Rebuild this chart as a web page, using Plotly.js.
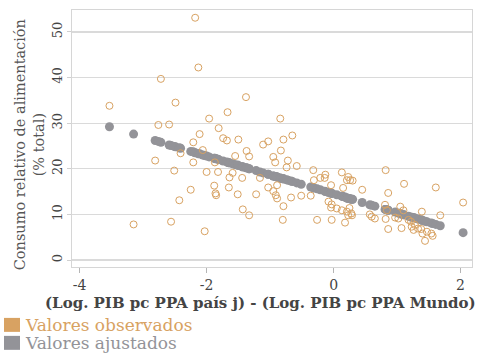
<!DOCTYPE html>
<html>
<head>
<meta charset="utf-8">
<script src="https://cdn.plot.ly/plotly-3.0.1.min.js"></script>
<style>
html,body{margin:0;padding:0;background:#fff;}
#chart{width:481px;height:354px;}
</style>
</head>
<body>
<div id="chart"></div>
<script>
// Observed values: x = log GDP pc gap, y = food consumption share (% total)
const obsX = [-3.53,-3.15,-2.81,-2.76,-2.59,-2.72,-2.49,-2.51,-2.56,-2.43,
  -2.41,-2.25,-2.21,-2.21,-2.18,-2.13,-2.11,-2.06,-2.03,-2.00,
  -1.96,-1.88,-1.87,-1.86,-1.85,-1.82,-1.81,-1.74,-1.68,-1.67,
  -1.65,-1.64,-1.59,-1.55,-1.51,-1.50,-1.44,-1.43,-1.38,-1.37,
  -1.33,-1.33,-1.22,-1.16,-1.11,-1.03,-1.03,-0.95,-0.95,-0.92,
  -0.91,-0.89,-0.89,-0.84,-0.83,-0.80,-0.79,-0.79,-0.72,-0.74,
  -0.67,-0.65,-0.58,-0.51,-0.36,-0.32,-0.31,-0.26,-0.21,-0.14,
  -0.13,-0.08,-0.04,-0.03,-0.04,-0.03,0.05,0.13,0.13,0.15,
  0.18,0.21,0.21,0.23,0.26,0.30,0.25,0.28,0.23,0.29,
  0.45,0.57,0.60,0.65,0.82,0.86,0.81,0.84,0.82,0.86,
  0.97,1.02,1.05,1.10,1.11,1.07,1.18,1.22,1.23,1.26,
  1.28,1.33,1.38,1.39,1.40,1.47,1.44,1.54,1.56,1.61,
  1.68,2.04];
const obsY = [33.8,7.8,21.8,29.6,29.7,39.7,34.5,19.6,8.4,13.1,
  23.4,15.4,25.8,21.4,53.1,42.2,27.6,24.1,6.3,19.3,
  31.0,16.3,21.4,14.6,14.2,19.3,28.9,26.7,26.2,32.4,
  15.9,18.1,19.1,22.8,14.4,26.4,18.0,11.1,35.7,23.9,
  22.7,9.8,14.4,18.0,25.3,26.0,15.9,22.6,15.1,21.4,
  14.2,13.5,16.4,31.0,24.0,8.8,26.4,11.8,21.8,20.3,
  13.7,27.3,20.6,14.1,14.1,19.7,17.5,8.8,18.0,18.0,
  18.7,12.8,16.4,12.2,11.5,8.8,11.3,19.2,10.9,15.8,
  8.2,17.5,10.6,18.2,17.5,17.4,11.4,10.2,9.8,9.8,
  15.4,10.0,9.5,9.1,19.7,14.7,12.1,10.9,9.0,6.8,
  9.3,9.1,11.7,10.9,16.7,7.0,8.8,8.4,7.3,6.6,
  7.7,6.9,6.8,10.6,5.8,6.2,4.2,5.8,5.3,15.9,
  9.8,12.6];
// Fitted values at each observation
const fitY = [29.2,27.6,26.2,26.0,25.2,25.8,24.8,24.9,25.1,24.6,
  24.5,23.8,23.7,23.7,23.5,23.3,23.3,23.0,22.9,22.8,
  22.6,22.3,22.3,22.2,22.2,22.1,22.0,21.7,21.5,21.4,
  21.3,21.3,21.1,20.9,20.8,20.7,20.5,20.4,20.2,20.2,
  20.0,20.0,19.6,19.3,19.1,18.8,18.8,18.4,18.4,18.3,
  18.3,18.2,18.2,18.0,17.9,17.8,17.8,17.8,17.5,17.6,
  17.3,17.2,16.9,16.6,16.0,15.8,15.8,15.6,15.4,15.1,
  15.0,14.8,14.7,14.6,14.7,14.6,14.3,14.0,14.0,13.9,
  13.8,13.6,13.6,13.5,13.4,13.3,13.5,13.3,13.5,13.3,
  12.6,12.1,12.0,11.8,11.1,10.9,11.1,11.0,11.1,10.9,
  10.5,10.3,10.1,9.9,9.9,10.1,9.6,9.4,9.4,9.3,
  9.2,9.0,8.8,8.7,8.7,8.4,8.5,8.1,8.0,7.8,
  7.5,6.0];
const xTicks = [-4,-2,0,2];
const yTicks = [0,10,20,30,40,50];
const seriesNames = ["Valores observados","Valores ajustados"];
const xTitle = "(Log. PIB pc PPA país j) - (Log. PIB pc PPA Mundo)";
const yTitle = "Consumo relativo de alimentación<br>(% total)";

const tan = "#d8a262", grey = "#939398";
const serif = "DejaVu Serif, Liberation Serif, serif";
const L=72, R=472, T=9.5, B=267;
const W=R-L, H=B-T;
const px = v => (v-L)/W, py = v => (B-v)/H;

const traces = [
  {x: obsX, y: fitY, type:"scatter", mode:"markers", name: seriesNames[1],
   marker:{color:grey, size:9, line:{width:0}}, showlegend:false, hoverinfo:"skip"},
  {x: obsX, y: obsY, type:"scatter", mode:"markers", name: seriesNames[0],
   marker:{symbol:"circle-open", color:tan, size:7, line:{width:1, color:tan}}, showlegend:false}
];

const layout = {
  width:481, height:354,
  margin:{l:L, r:481-R, t:T, b:354-B, pad:0},
  paper_bgcolor:"#fff", plot_bgcolor:"#fff",
  showlegend:false,
  xaxis:{range:[-4.12,2.18], tickvals:xTicks, ticktext:xTicks.map(String),
    showgrid:false, zeroline:false, showline:true, mirror:true,
    linecolor:"#d6d6d6", linewidth:1,
    ticks:"outside", ticklen:5, tickcolor:"#b5b5b5", tickwidth:1,
    tickfont:{family:serif, size:14, color:"#444"}},
  yaxis:{range:[-1.53,54.8], tickvals:yTicks, ticktext:yTicks.map(String),
    showgrid:true, gridcolor:"#dadada", gridwidth:1.2, zeroline:false,
    showline:true, mirror:true, linecolor:"#d6d6d6", linewidth:1,
    ticks:"outside", ticklen:4, tickcolor:"#d0d0d0", tickwidth:1,
    tickangle:-90,
    tickfont:{family:serif, size:13, color:"#444"}},
  annotations:[
    {text:yTitle, xref:"paper", yref:"paper", x:px(29), y:py(145),
     xanchor:"center", yanchor:"middle", textangle:-90, showarrow:false,
     font:{family:serif, size:14.5, color:"#555"}},
    {text:xTitle, xref:"paper", yref:"paper", x:px(260), y:py(303),
     xanchor:"center", yanchor:"middle", showarrow:false,
     font:{family:serif, size:15, weight:"bold", color:"#444"}},
    {text:seriesNames[0], xref:"paper", yref:"paper", x:px(23), y:py(325),
     xanchor:"left", yanchor:"middle", showarrow:false,
     font:{family:serif, size:17, color:tan}},
    {text:seriesNames[1], xref:"paper", yref:"paper", x:px(23), y:py(343),
     xanchor:"left", yanchor:"middle", showarrow:false,
     font:{family:serif, size:17, color:grey}}
  ],
  shapes:[
    {type:"rect", xref:"paper", yref:"paper", x0:px(4), x1:px(20), y0:py(318), y1:py(332),
     fillcolor:tan, line:{width:0}},
    {type:"rect", xref:"paper", yref:"paper", x0:px(4), x1:px(20), y0:py(336), y1:py(350),
     fillcolor:grey, line:{width:0}}
  ]
};
Plotly.newPlot("chart", traces, layout, {displayModeBar:false, staticPlot:true});
</script>
</body>
</html>
